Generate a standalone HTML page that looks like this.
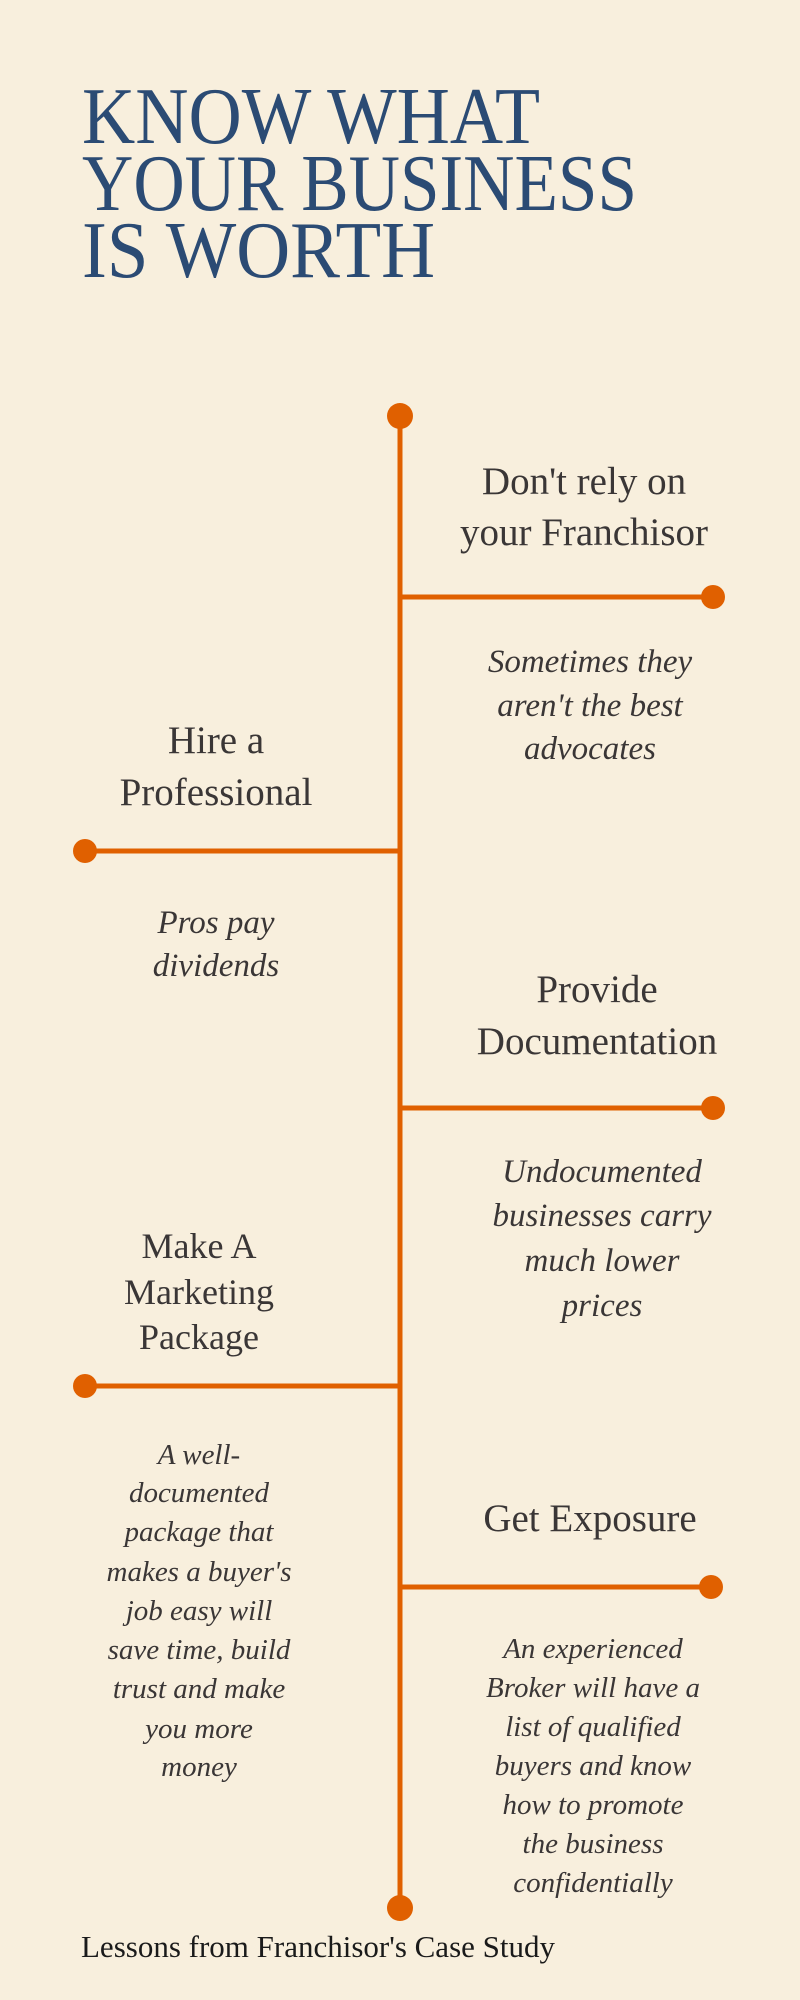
<!DOCTYPE html>
<html><head><meta charset="utf-8"><style>
html,body{margin:0;padding:0;background:#f8efdd;}
svg{display:block}
.t{font-family:"Liberation Serif",serif;fill:#2b4b74;font-size:80px}
.h{font-family:"Liberation Serif",serif;fill:#3a3636;font-size:39px;text-anchor:middle}
.h2{font-family:"Liberation Serif",serif;fill:#3a3636;font-size:36px;text-anchor:middle}
.i{font-family:"Liberation Serif",serif;font-style:italic;fill:#3a3636;font-size:33px;text-anchor:middle}
.i2{font-family:"Liberation Serif",serif;font-style:italic;fill:#3a3636;font-size:29px;text-anchor:middle}
</style></head><body>
<svg width="800" height="2000" viewBox="0 0 800 2000" xmlns="http://www.w3.org/2000/svg">
<rect width="800" height="2000" fill="#f8efdd"/>
<text class="t" x="82" y="143" textLength="458" lengthAdjust="spacingAndGlyphs">KNOW WHAT</text>
<text class="t" x="82" y="210" textLength="555" lengthAdjust="spacingAndGlyphs">YOUR BUSINESS</text>
<text class="t" x="82" y="277" textLength="353" lengthAdjust="spacingAndGlyphs">IS WORTH</text>

<g stroke="#e06000" stroke-width="5" fill="none">
<line x1="400" y1="416" x2="400" y2="1908"/>
<line x1="400" y1="597" x2="713" y2="597"/>
<line x1="400" y1="851" x2="85" y2="851"/>
<line x1="400" y1="1108" x2="713" y2="1108"/>
<line x1="400" y1="1386" x2="85" y2="1386"/>
<line x1="400" y1="1587" x2="711" y2="1587"/>
</g>
<g fill="#e06000">
<circle cx="400" cy="416" r="13"/>
<circle cx="400" cy="1908" r="13"/>
<circle cx="713" cy="597" r="12"/>
<circle cx="85" cy="851" r="12"/>
<circle cx="713" cy="1108" r="12"/>
<circle cx="85" cy="1386" r="12"/>
<circle cx="711" cy="1587" r="12"/>
</g>

<text class="h" x="584" y="494">Don't rely on</text>
<text class="h" x="584" y="545">your Franchisor</text>
<text class="i" x="590" y="672">Sometimes they</text>
<text class="i" x="590" y="716">aren't the best</text>
<text class="i" x="590" y="759">advocates</text>

<text class="h" x="216" y="753">Hire a</text>
<text class="h" x="216" y="805">Professional</text>
<text class="i" x="216" y="933">Pros pay</text>
<text class="i" x="216" y="976">dividends</text>

<text class="h" x="597" y="1002">Provide</text>
<text class="h" x="597" y="1054">Documentation</text>
<text class="i" x="602" y="1182">Undocumented</text>
<text class="i" x="602" y="1226">businesses carry</text>
<text class="i" x="602" y="1271">much lower</text>
<text class="i" x="602" y="1316">prices</text>

<text class="h2" x="199" y="1258">Make A</text>
<text class="h2" x="199" y="1304">Marketing</text>
<text class="h2" x="199" y="1349">Package</text>
<text class="i2" x="199" y="1464">A well-</text>
<text class="i2" x="199" y="1502">documented</text>
<text class="i2" x="199" y="1541">package that</text>
<text class="i2" x="199" y="1581">makes a buyer's</text>
<text class="i2" x="199" y="1620">job easy will</text>
<text class="i2" x="199" y="1659">save time, build</text>
<text class="i2" x="199" y="1698">trust and make</text>
<text class="i2" x="199" y="1738">you more</text>
<text class="i2" x="199" y="1776">money</text>

<text class="h" x="590" y="1531" font-size="40">Get Exposure</text>
<text class="i2" x="593" y="1658">An experienced</text>
<text class="i2" x="593" y="1697">Broker will have a</text>
<text class="i2" x="593" y="1736">list of qualified</text>
<text class="i2" x="593" y="1775">buyers and know</text>
<text class="i2" x="593" y="1814">how to promote</text>
<text class="i2" x="593" y="1853">the business</text>
<text class="i2" x="593" y="1892">confidentially</text>

<text x="81" y="1957" font-family="Liberation Serif, serif" font-size="31" fill="#1a1a1a">Lessons from Franchisor's Case Study</text>
</svg>
</body></html>
